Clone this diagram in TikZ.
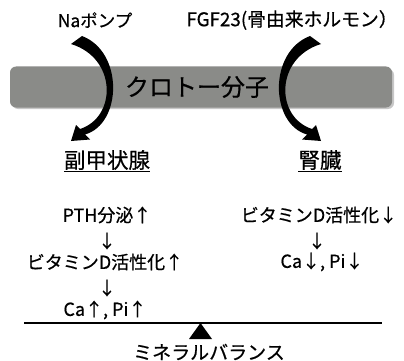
\documentclass[tikz,border=0pt]{standalone}
\usepackage{fontspec}
\setmainfont{Noto Sans CJK JP}
\newfontfamily\jpf{Noto Sans CJK JP}[FakeBold=0.6]
\definecolor{barg}{RGB}{138,139,136}
\begin{document}
\begin{tikzpicture}[x=1pt,y=-1pt,
  toplbl/.style={inner sep=0pt, font=\jpf\fontsize{17.5}{20}\selectfont},
  txt/.style={inner sep=0pt, font=\jpf\fontsize{18}{21}\selectfont},
  head/.style={inner sep=0pt, font=\jpf\fontsize{21.5}{25}\selectfont},
  big/.style={inner sep=0pt, font=\jpf\fontsize{24}{28}\selectfont},
  foot/.style={inner sep=0pt, font=\jpf\fontsize{19}{22}\selectfont},
  curvarrow/.pic={\fill[black] (82,36) .. controls (124,52) and (122,124) .. (85,134.5)
      -- (90,139.5) -- (71,141) -- (76,125) -- (80,129)
      .. controls (117,117) and (117,58) .. (71,44) -- cycle;}]
\useasboundingbox (0,0) rectangle (404,361);
% bar
\fill[black!22, rounded corners=6pt] (12,69) rectangle (394,109);
\node[fill=barg, rounded corners=6pt, minimum width=382pt, minimum height=41pt, inner sep=0pt] (bar) at (201,87) {};
\node[big] (klotho) at (197,87) {クロトー分子};
% top labels
\node[toplbl] (na) at (95,20) {Naポンプ};
\node[toplbl, font=\jpf\fontsize{18.8}{22}\selectfont] (fgf) at (292,20) {FGF23(骨由来ホルモン）};
% curved arrows
\pic at (0,0) {curvarrow};
\pic[xscale=-1] at (392,0) {curvarrow};
% headings
\node[head] (h1) at (107,160) {副甲状腺};
\node[head] (h2) at (320,160) {腎臓};
\draw[line width=1.3pt] ([yshift=-1.5pt]h1.south west) -- ([yshift=-1.5pt]h1.south east);
\draw[line width=1.3pt] ([yshift=-1.5pt]h2.south west) -- ([yshift=-1.5pt]h2.south east);
% left column
\node[txt] (l1) at (107,215) {PTH分泌↑};
\node[txt] (l2) at (107,241) {↓};
\node[txt] (l3) at (105,262) {ビタミンD活性化↑};
\node[txt] (l4) at (107,288) {↓};
\node[txt] (l5) at (105,310) {Ca↑, Pi↑};
% right column
\node[txt] (r1) at (319,215) {ビタミンD活性化↓};
\node[txt] (r2) at (317,241) {↓};
\node[txt] (r3) at (322,262) {Ca↓, Pi↓};
% balance
\coordinate (bl) at (24,323);
\coordinate (br) at (382,323);
\draw[line width=2pt] (bl) -- (br);
\fill[black] (200.5,323) -- (212,339) -- (189,339) -- cycle;
\node[foot] (mb) at (209,352) {ミネラルバランス};
\end{tikzpicture}
\end{document}
